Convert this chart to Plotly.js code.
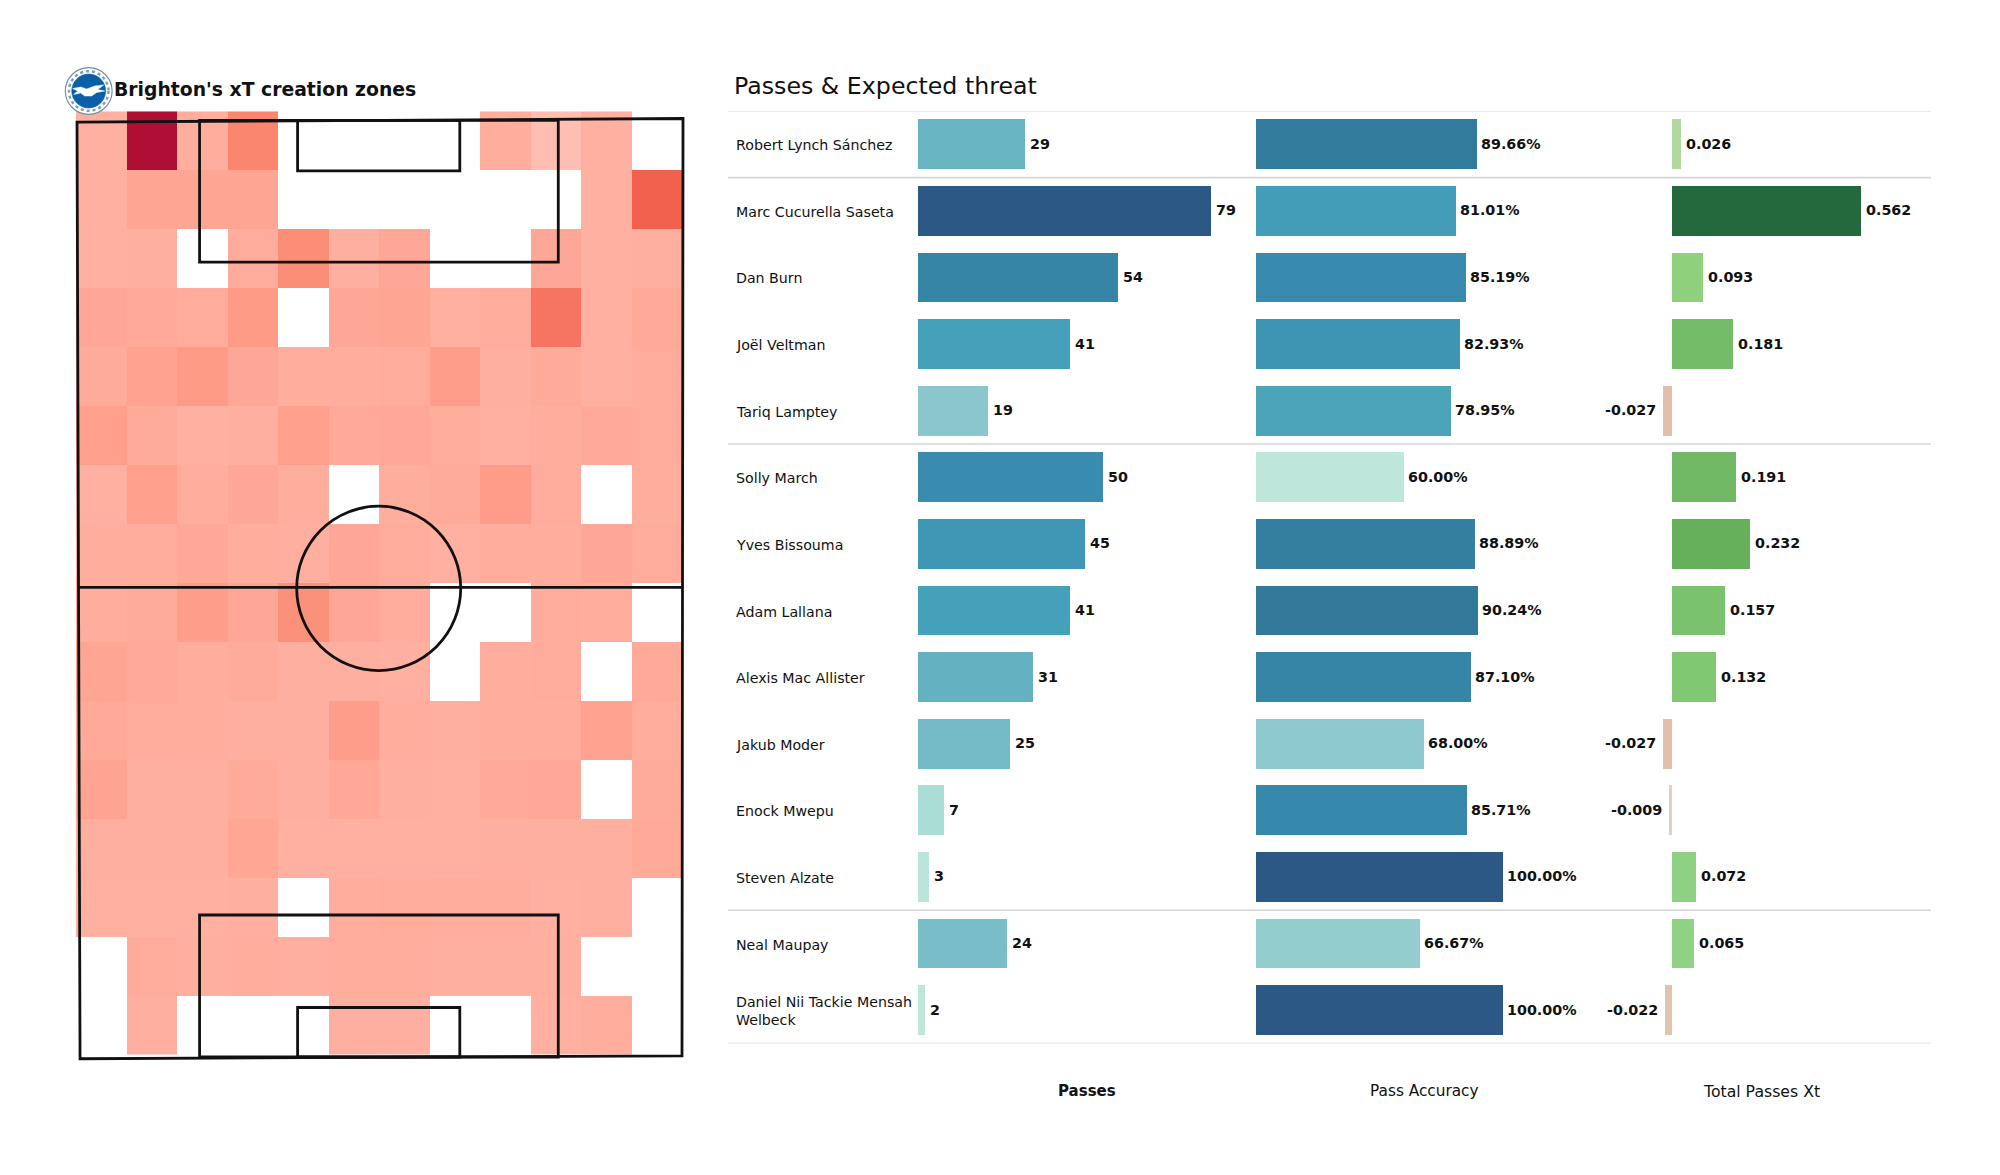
<!DOCTYPE html>
<html>
<head>
<meta charset="utf-8">
<script src="https://cdn.plot.ly/plotly-3.0.1.min.js"></script>
<style>html,body{margin:0;padding:0;background:#fff}#chart{width:2000px;height:1175px}</style>
</head>
<body>
<div id="chart"></div>
<script>
// ---------- data ----------
const players = ["Robert Lynch Sánchez","Marc Cucurella Saseta","Dan Burn","Joël Veltman","Tariq Lamptey","Solly March","Yves Bissouma","Adam Lallana","Alexis Mac Allister","Jakub Moder","Enock Mwepu","Steven Alzate","Neal Maupay","Daniel Nii Tackie Mensah<br>Welbeck"];
const passes = [29,79,54,41,19,50,45,41,31,25,7,3,24,2];
const passAccuracy = [89.66,81.01,85.19,82.93,78.95,60.00,88.89,90.24,87.10,68.00,85.71,100.00,66.67,100.00];
const passesXt = [0.026,0.562,0.093,0.181,-0.027,0.191,0.232,0.157,0.132,-0.027,-0.009,0.072,0.065,-0.022];
const columnHeaders = ["Passes","Pass Accuracy","Total Passes Xt"];
const groupBreaks = [-0.5,0.5,4.5,11.5,13.5];
const n = null;
const xtZones = [
 [1,12,1.3,4.6,n,n,n,n,1.3,0.4,1.1,n],
 [1,2.2,2.2,2.2,n,n,n,n,n,n,1,7],
 [1,1.2,n,1.5,4,1.2,2,n,n,2,1,1.2],
 [2,1.8,1.5,3,n,2,2.2,1.1,1.5,6,1.1,1.8],
 [1.6,2.4,3,2,1.3,1.4,1.5,2.8,1.2,1.6,1.1,1.5],
 [2.6,1.6,1,1.2,2.7,1.7,1.9,1.4,1.1,1.4,1.8,1.5],
 [1.1,2.7,1.3,2,1.4,n,1.4,1.6,2.9,1.5,n,1.4],
 [1.3,1.3,1.9,1.4,1.2,2,1.5,1.1,1.3,1.4,2,1.5],
 [1.3,1.6,2.8,2,3.8,2,1.5,n,n,1.5,1.3,n],
 [2.2,1.7,1.4,1.6,1.2,1.2,1.1,n,1.4,1.5,n,1.8],
 [1.7,1.5,1.3,1.2,1.2,2.8,1.3,1.2,1.4,1.3,2.4,1.4],
 [2.3,1.2,1.2,1.6,1.2,1.9,1.2,1.1,1.8,1.9,n,1.6],
 [1.2,1.2,1.2,2.1,1.1,1.1,1.1,1.1,1.2,1.2,1.2,1.8],
 [1.1,1.1,1.1,1.2,n,1.3,1.5,1.3,1.3,1.1,1.2,n],
 [n,1.5,1.2,1.3,1.2,1.3,1.3,1.2,1.2,1.2,n,n],
 [n,1.2,n,n,n,1.2,1.2,n,n,1.1,1.3,n]
];

// ---------- helpers ----------
const W = 2000, H = 1175;
const xd = (a,b) => [a/W, b/W];
const yd = (a,b) => [1-b/H, 1-a/H];
const px = x => x/W, py = y => 1-y/H;
const FONT = "DejaVu Sans";
const INK = "#111111";

const tealScale = [[0,"#BFE6DB"],[0.065,"#AADDD6"],[0.167,"#93CDCE"],[0.22,"#8BC6CD"],[0.286,"#78BDC8"],[0.377,"#63B1C1"],[0.5,"#46A1BA"],[0.63,"#388BAE"],[0.75,"#337A9B"],[1,"#2B5884"]];
const xtScale = [[0,"#E3BBAA"],[0.0135,"#E2C3AE"],[0.035,"#DDD2BE"],[0.095,"#B2D8A0"],[0.16,"#90D284"],[0.208,"#8ED07C"],[0.274,"#80C972"],[0.356,"#74BC68"],[0.443,"#66AF5B"],[1,"#24693E"]];
const hs = z => z/12;
const heatScale = [[0,"#FFC6BB"],[hs(1),"#FFB1A1"],[hs(2),"#FFA796"],[hs(2.5),"#FFA18F"],[hs(3),"#FE9B87"],[hs(4),"#FC8E78"],[hs(5),"#FB8068"],[hs(6),"#F67462"],[hs(7),"#F2604E"],[1,"#AE1035"]];

function barTrace(values, xa, ya, scale, cmin, cmax){
  return {type:"bar",orientation:"h",x:values,y:players,xaxis:xa,yaxis:ya,width:0.746,
    marker:{color:values,colorscale:scale,cmin:cmin,cmax:cmax,line:{width:0}},
    hoverinfo:"skip",showlegend:false};
}

const traces = [
  {type:"heatmap",z:xtZones,x0:0.5,dx:1,y0:0.5,dy:1,xaxis:"x4",yaxis:"y4",
   colorscale:heatScale,zmin:0,zmax:12,showscale:false,hoverinfo:"skip",hoverongaps:false},
  barTrace(passes,"x","y",tealScale,2,79),
  barTrace(passAccuracy,"x2","y2",tealScale,60,100),
  barTrace(passesXt,"x3","y3",xtScale,-0.03,0.562)
];

// ---------- pitch (grid units: one heat cell = 1) ----------
const pl = {color:"#111111",width:2.8};
const onPitch = {xref:"x4",yref:"y4",layer:"above",line:pl};
const shapes = [
  {...onPitch,type:"path",path:"M0.02,0.18 L12.02,0.12 L12,16.03 L0.08,16.08 Z"},
  {...onPitch,type:"line",x0:0.04,x1:12.01,y0:8.08,y1:8.08},
  {...onPitch,type:"rect",x0:2.447,x1:9.55,y0:0.15,y1:2.556},
  {...onPitch,type:"rect",x0:2.447,x1:9.55,y0:13.64,y1:16.05},
  {...onPitch,type:"rect",x0:4.388,x1:7.6,y0:0.15,y1:1.01},
  {...onPitch,type:"rect",x0:4.388,x1:7.6,y0:15.21,y1:16.05},
  {...onPitch,type:"circle",x0:4.37,x1:7.618,y0:6.7,y1:9.49}
];

// row separators
groupBreaks.forEach((b,i)=>shapes.push({type:"line",xref:"paper",yref:"y",x0:px(728),x1:px(1931),y0:b,y1:b,layer:"below",
  line:{color:(i===0||i===groupBreaks.length-1)?"#E4E4E4":"#D6D6D6",width:1.6}}));

// crest
const cx=88.7, cy=91;
const disc=(r,fill,lc,lw,dash)=>({type:"circle",xref:"paper",yref:"paper",x0:px(cx-r),x1:px(cx+r),y0:py(cy+r),y1:py(cy-r),
  fillcolor:fill,line:{color:lc,width:lw,dash:dash||"solid"},layer:"above"});
const gull=[[-16,-2.5],[-8,-4],[-2,-2],[6,-5],[15,-6],[9,-1.5],[16,0],[8,1.5],[3,5],[-4,5],[-8,2],[-15,3.5],[-11,0]];
shapes.push(disc(23.4,"#FFFFFF","#6F8FAE",1.2));
shapes.push(disc(19.8,"rgba(0,0,0,0)","#7F9CB8",2.4,"dot"));
shapes.push(disc(17,"#0A5FA8","#0A5FA8",0.5));
shapes.push({type:"path",xref:"paper",yref:"paper",layer:"above",fillcolor:"#FFFFFF",line:{color:"#FFFFFF",width:0.5},
  path:gull.map((p,i)=>(i?"L":"M")+px(cx+p[0])+","+py(cy+p[1])).join(" ")+" Z"});

// ---------- text ----------
const note=(text,x,y,size,opts)=>Object.assign({text:text,xref:"paper",yref:"paper",x:px(x),y:py(y),showarrow:false,
  xanchor:"left",yanchor:"middle",align:"left",font:{family:FONT,size:size,color:INK}},opts||{});
const annotations=[
  note("<b>Brighton's xT creation zones</b>",111.5,89.5,18.8),
  note("Passes &amp; Expected threat",732,86,23.7),
  note("<b>"+columnHeaders[0]+"</b>",1087,1091,15,{xanchor:"center"}),
  note(columnHeaders[1],1424,1091,15.3,{xanchor:"center"}),
  note(columnHeaders[2],1761,1091,15.7,{xanchor:"center"})
];
players.forEach((p,i)=>annotations.push({text:p,xref:"paper",yref:"y",x:px(734),y:i,yshift:-1,showarrow:false,
  xanchor:"left",yanchor:"middle",align:"left",font:{family:FONT,size:14.2,color:INK}}));
function valueLabels(values,labels,xa,ya,gap){
  values.forEach((v,i)=>annotations.push({text:"<b>"+labels[i]+"</b>",xref:xa,yref:ya,x:v,y:i,yshift:0.5,
    xanchor:v<0?"right":"left",yanchor:"middle",xshift:v<0?-gap-2:gap,showarrow:false,
    font:{family:FONT,size:14.3,color:INK}}));
}
valueLabels(passes,passes.map(String),"x","y",3);
valueLabels(passAccuracy,passAccuracy.map(v=>v.toFixed(2)+"%"),"x2","y2",2);
valueLabels(passesXt,passesXt.map(v=>v.toFixed(3)),"x3","y3",3);

// ---------- layout ----------
const hid={visible:false,fixedrange:true};
const rowAxis=d=>Object.assign({},hid,{domain:d,type:"category",categoryorder:"array",categoryarray:players,range:[13.5,-0.5]});
const rowDomain=yd(111,1043.4);
const layout={
  width:W,height:H,margin:{l:0,r:0,t:0,b:0},paper_bgcolor:"#fff",plot_bgcolor:"rgba(0,0,0,0)",
  showlegend:false,bargap:0,
  xaxis:Object.assign({},hid,{domain:xd(917.5,1250),range:[0,89.5],anchor:"y"}),
  yaxis:rowAxis(rowDomain),
  xaxis2:Object.assign({},hid,{domain:xd(1255.8,1590),range:[0,135.45],anchor:"y2"}),
  yaxis2:rowAxis(rowDomain),
  xaxis3:Object.assign({},hid,{domain:xd(1600,1950),range:[-0.2143,0.8274],anchor:"y3"}),
  yaxis3:rowAxis(rowDomain),
  xaxis4:Object.assign({},hid,{domain:xd(50.75,707.25),range:[-0.5,12.5],anchor:"y4"}),
  yaxis4:Object.assign({},hid,{domain:yd(82,1083.5),range:[16.5,-0.5],anchor:"x4"}),
  shapes:shapes,annotations:annotations
};
Plotly.newPlot("chart",traces,layout,{displayModeBar:false,staticPlot:true});
</script>
</body>
</html>
